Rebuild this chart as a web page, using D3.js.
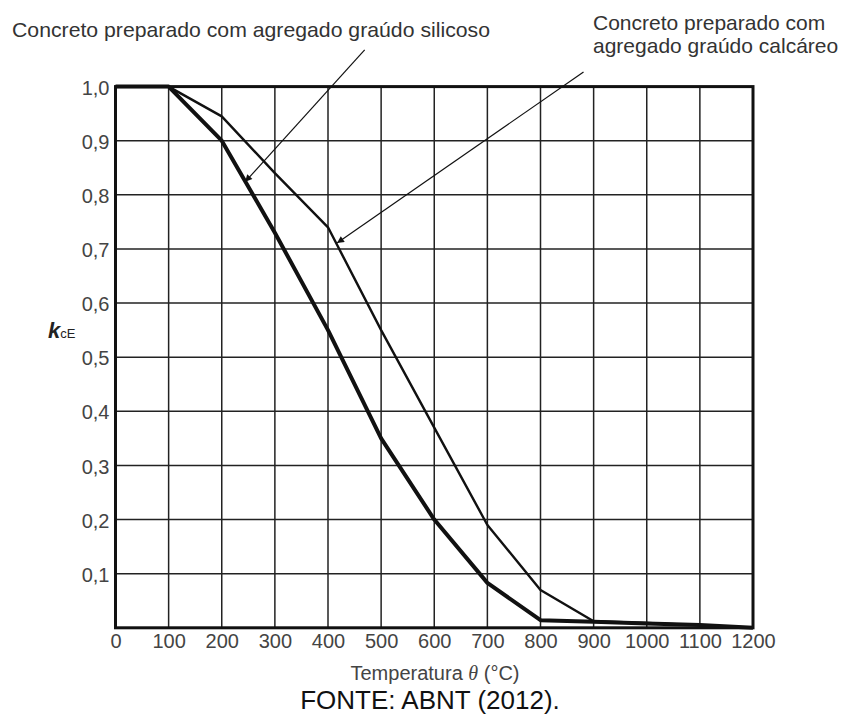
<!DOCTYPE html>
<html><head><meta charset="utf-8">
<script src="https://cdn.jsdelivr.net/npm/d3@7"></script>
<style>html,body{margin:0;padding:0;background:#fff;}svg{display:block;font-family:"Liberation Sans",Arial,sans-serif;}</style>
</head><body>
<svg id="c" width="844" height="715"></svg>
<script>
const temps = [0,100,200,300,400,500,600,700,800,900,1000,1100,1200];
const silicoso = [1.0,1.0,0.90,0.73,0.55,0.35,0.20,0.083,0.014,0.011,0.008,0.005,0.0];
const calcareo = [1.0,1.0,0.945,0.84,0.74,0.55,0.37,0.19,0.07,0.012,0.009,0.005,0.0];
const xTicks = [0,100,200,300,400,500,600,700,800,900,1000,1100,1200];
const yTicks = [0.1,0.2,0.3,0.4,0.5,0.6,0.7,0.8,0.9,1.0];
const labelSilicoso = "Concreto preparado com agregado graúdo silicoso";
const labelCalcareo = ["Concreto preparado com","agregado graúdo calcáreo"];
const arrowSilicoso = {from:[469,1.068], to:[244,0.824]};
const arrowCalcareo = {from:[881,1.027], to:[417,0.711]};

const svg = d3.select("#c");
const x = d3.scaleLinear().domain([0,1200]).range([115.5,753]);
const y = d3.scaleLinear().domain([0,1]).range([627.8,86.6]);

svg.append("defs").append("marker")
  .attr("id","ah").attr("viewBox","0 0 10 10").attr("refX",10).attr("refY",5)
  .attr("markerWidth",9).attr("markerHeight",7).attr("markerUnits","userSpaceOnUse")
  .attr("orient","auto")
  .append("path").attr("d","M0,0 L10,5 L0,10 Z").attr("fill","#111");

// grid
const g = svg.append("g");
g.selectAll("line.v").data(xTicks.slice(1,-1)).join("line")
  .attr("x1",d=>x(d)).attr("x2",d=>x(d)).attr("y1",y(0)).attr("y2",y(1))
  .attr("stroke","#222").attr("stroke-width",1.5);
g.selectAll("line.h").data(yTicks.slice(0,-1)).join("line")
  .attr("x1",x(0)).attr("x2",x(1200)).attr("y1",d=>y(d)).attr("y2",d=>y(d))
  .attr("stroke","#222").attr("stroke-width",1.5);
// frame
g.append("rect").attr("x",x(0)).attr("y",y(1)).attr("width",x(1200)-x(0)).attr("height",y(0)-y(1))
  .attr("fill","none").attr("stroke","#111").attr("stroke-width",3);

// axes (labels)
const xAxis = d3.axisBottom(x).tickValues(xTicks).tickSize(0).tickPadding(0).tickFormat(d3.format("d"));
const xa = svg.append("g").attr("transform",`translate(0,${y(0)})`).call(xAxis);
xa.select(".domain").remove();
xa.selectAll("text").attr("y",20).attr("dy",0).attr("font-size",20)
  .attr("font-family","Liberation Sans, Arial, sans-serif").attr("fill","#444");

const yAxis = d3.axisLeft(y).tickValues(yTicks).tickSize(0).tickPadding(0)
  .tickFormat(d=>d3.format(".1f")(d).replace(".",","));
const ya = svg.append("g").attr("transform",`translate(${x(0)-6},0)`).call(yAxis);
ya.select(".domain").remove();
ya.selectAll("text").attr("dy","0.38em").attr("font-size",20)
  .attr("font-family","Liberation Sans, Arial, sans-serif").attr("fill","#444");

// curves
const line = d3.line().x(d=>x(d[0])).y(d=>y(d[1]));
svg.append("path").datum(temps.map((t,i)=>[t,calcareo[i]])).attr("d",line)
  .attr("fill","none").attr("stroke","#111").attr("stroke-width",2.4).attr("stroke-linejoin","round");
svg.append("path").datum(temps.map((t,i)=>[t,silicoso[i]])).attr("d",line)
  .attr("fill","none").attr("stroke","#111").attr("stroke-width",4).attr("stroke-linejoin","round");

// arrows
[arrowSilicoso,arrowCalcareo].forEach(a=>{
  svg.append("line").attr("x1",x(a.from[0])).attr("y1",y(a.from[1]))
    .attr("x2",x(a.to[0])).attr("y2",y(a.to[1]))
    .attr("stroke","#111").attr("stroke-width",1.2).attr("marker-end","url(#ah)");
});

// annotation texts
svg.append("text").attr("x",12).attr("y",37).attr("font-size",21).attr("fill","#333")
  .attr("textLength",478).attr("lengthAdjust","spacingAndGlyphs").text(labelSilicoso);
svg.append("text").attr("x",593).attr("y",30).attr("font-size",21).attr("fill","#333").text(labelCalcareo[0]);
svg.append("text").attr("x",593).attr("y",53).attr("font-size",21).attr("fill","#333").text(labelCalcareo[1]);

// y axis title
const yt = svg.append("text").attr("x",48).attr("y",338).attr("fill","#222");
yt.append("tspan").attr("font-size",22).attr("font-weight","bold").attr("font-style","italic").text("k");
yt.append("tspan").attr("font-size",13).text("cE");

// x axis title
const xt = svg.append("text").attr("x",435).attr("y",680).attr("text-anchor","middle").attr("font-size",20).attr("fill","#444");
xt.append("tspan").text("Temperatura ");
xt.append("tspan").attr("font-style","italic").attr("font-family","Liberation Serif, serif").text("θ");
xt.append("tspan").text(" (°C)");

// source
svg.append("text").attr("x",430).attr("y",709).attr("text-anchor","middle").attr("font-size",26).attr("fill","#111")
  .text("FONTE: ABNT (2012).");
</script>
</body></html>
